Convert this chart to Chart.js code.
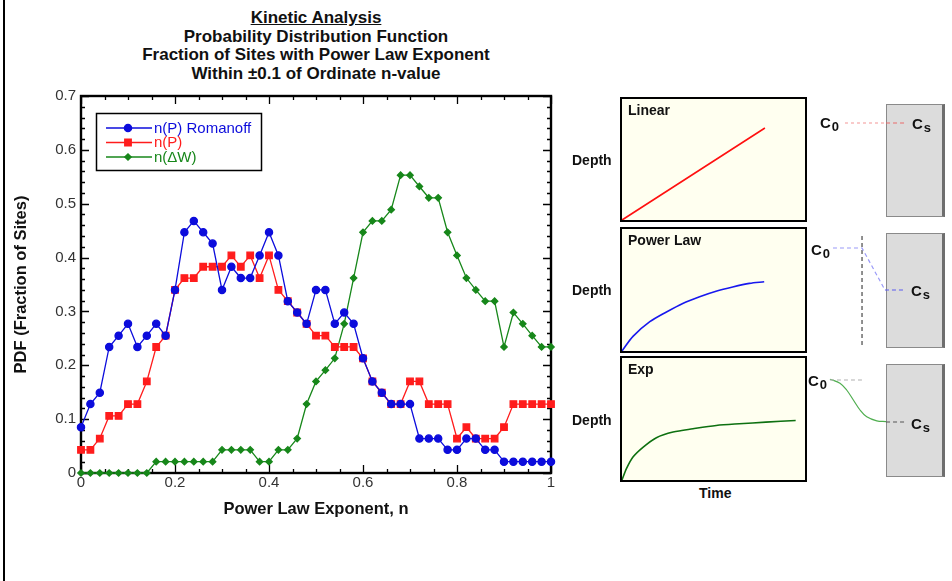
<!DOCTYPE html>
<html><head><meta charset="utf-8">
<script src="https://cdn.jsdelivr.net/npm/chart.js@4"></script>
<style>
body{margin:0;width:952px;height:581px;background:#fff;position:relative;overflow:hidden;font-family:"Liberation Sans",Arial,Helvetica,sans-serif;color:#111;}
.a{position:absolute;}
.title{left:116px;top:9px;width:400px;text-align:center;font-weight:bold;font-size:17px;line-height:18.5px;}
.depth{font-weight:bold;font-size:14px;left:572px;line-height:16px;}
.box{background:#dcdcdc;border:1px solid #8a8a8a;border-right:3px solid #6e6e6e;box-sizing:border-box;}
.c{font-weight:bold;font-size:15px;line-height:16px;}
.c sub{font-size:13px;vertical-align:-3px;line-height:0;margin-left:1px;}
</style></head><body>
<div class="a" style="left:3px;top:0;width:2px;height:581px;background:#000"></div>
<div class="a title"><u>Kinetic Analysis</u><br>Probability Distribution Function<br>Fraction of Sites with Power Law Exponent<br>Within ±0.1 of Ordinate n-value</div>
<canvas id="main" class="a" style="left:0;top:0" width="580" height="581"></canvas>

<div class="a depth" style="top:152px">Depth</div>
<div class="a depth" style="top:282px">Depth</div>
<div class="a depth" style="top:412px">Depth</div>
<div class="a" style="left:699px;top:485px;font-weight:bold;font-size:14px;">Time</div>
<canvas id="lin" class="a" style="left:620px;top:97px" width="187" height="125"></canvas>
<canvas id="pow" class="a" style="left:620px;top:227px" width="187" height="126"></canvas>
<canvas id="exp" class="a" style="left:620px;top:356px" width="187" height="126"></canvas>

<div class="a box" style="left:886px;top:104px;width:59px;height:113px"></div>
<div class="a box" style="left:886px;top:233px;width:59px;height:115px"></div>
<div class="a box" style="left:886px;top:364px;width:59px;height:113px"></div>
<canvas id="diag" class="a" style="left:800px;top:90px" width="152" height="400"></canvas>
<div class="a c" style="left:820px;top:115px">C<sub>0</sub></div>
<div class="a c" style="left:912px;top:116px">C<sub>s</sub></div>
<div class="a c" style="left:811px;top:242px">C<sub>0</sub></div>
<div class="a c" style="left:911px;top:283px">C<sub>s</sub></div>
<div class="a c" style="left:808px;top:373px">C<sub>0</sub></div>
<div class="a c" style="left:911px;top:416px">C<sub>s</sub></div>

<script>
// ---------- main chart data ----------
const nValues = [0,0.02,0.04,0.06,0.08,0.10,0.12,0.14,0.16,0.18,0.20,0.22,0.24,0.26,0.28,0.30,0.32,0.34,0.36,0.38,0.40,0.42,0.44,0.46,0.48,0.50,0.52,0.54,0.56,0.58,0.60,0.62,0.64,0.66,0.68,0.70,0.72,0.74,0.76,0.78,0.80,0.82,0.84,0.86,0.88,0.90,0.92,0.94,0.96,0.98,1.00];
const romanoff = [0.085,0.128,0.149,0.234,0.255,0.277,0.234,0.255,0.277,0.255,0.340,0.447,0.468,0.447,0.426,0.340,0.383,0.362,0.362,0.404,0.447,0.404,0.319,0.298,0.277,0.340,0.340,0.277,0.298,0.277,0.213,0.170,0.149,0.128,0.128,0.128,0.064,0.064,0.064,0.043,0.043,0.064,0.064,0.043,0.043,0.021,0.021,0.021,0.021,0.021,0.021];
const nP = [0.043,0.043,0.064,0.106,0.106,0.128,0.128,0.170,0.234,0.255,0.340,0.362,0.362,0.383,0.383,0.383,0.404,0.383,0.404,0.362,0.404,0.340,0.319,0.298,0.277,0.255,0.255,0.234,0.234,0.234,0.213,0.170,0.149,0.128,0.128,0.170,0.170,0.128,0.128,0.128,0.064,0.085,0.064,0.064,0.064,0.085,0.128,0.128,0.128,0.128,0.128];
const nDW = [0,0,0,0,0,0,0,0,0.021,0.021,0.021,0.021,0.021,0.021,0.021,0.043,0.043,0.043,0.043,0.021,0.021,0.043,0.043,0.064,0.128,0.170,0.191,0.213,0.277,0.362,0.447,0.468,0.468,0.489,0.553,0.553,0.532,0.511,0.511,0.447,0.404,0.362,0.340,0.319,0.319,0.234,0.298,0.277,0.255,0.234,0.234];
const seriesNames = ['n(P) Romanoff','n(P)','n(\u0394W)'];
const xTickLabels = ['0','0.2','0.4','0.6','0.8','1'];
const yTickLabels = ['0','0.1','0.2','0.3','0.4','0.5','0.6','0.7'];

// ---------- inset curves (normalised time / depth) ----------
const linT = [0,0.781], linD = [0,0.76];
const powT = [0,0.06,0.152,0.243,0.332,0.424,0.514,0.605,0.696,0.777];
const powD = [0,0.12,0.24,0.32,0.39,0.445,0.49,0.525,0.554,0.567];
const expT = [0,0.025,0.061,0.116,0.188,0.279,0.388,0.515,0.641,0.786,0.949];
const expD = [0,0.095,0.19,0.27,0.347,0.393,0.42,0.447,0.461,0.474,0.488];

// ---------- schematic concentration profiles ----------
const linProfOutX=[0.296,0.566], linProfOutY=[0.9175,0.9175];
const linProfInX=[0.566,0.697], linProfInY=[0.9175,0.9175];
const powProfOutX=[0.217,0.408,0.559], powProfOutY=[0.605,0.605,0.5];
const powProfInX=[0.559,0.691], powProfInY=[0.5,0.5];
const powSurfX=[0.408,0.408], powSurfY=[0.635,0.3625];
const expInitX=[0.197,0.428], expInitY=[0.275,0.275];
const expCurveX=[0.197,0.263,0.307,0.351,0.395,0.439,0.505,0.566];
const expCurveY=[0.277,0.267,0.25,0.225,0.2,0.183,0.173,0.171];
const expSurfX=[0.566,0.691], expSurfY=[0.17,0.17];

const BLUE='#0c0cdc', RED='#ff1c1c', GREEN='#17871a';
Chart.defaults.font.family='"Liberation Sans", Arial, Helvetica, sans-serif';
Chart.defaults.animation=false;

const zip=(xs,ys)=>xs.map((x,i)=>({x,y:ys[i]}));

const frameTicks={id:'frameTicks',
  beforeDatasetsDraw(chart){
    const {ctx,chartArea:a,scales:{x,y}}=chart;
    ctx.save();
    ctx.strokeStyle='#000';
    ctx.lineWidth=1.3;
    ctx.beginPath();
    for(let i=0;i<=35;i++){
      const py=Math.round(y.getPixelForValue(i*0.02))+0.5;
      const len=(i%5===0)?8:4;
      ctx.moveTo(a.left,py);ctx.lineTo(a.left+len,py);
      ctx.moveTo(a.right,py);ctx.lineTo(a.right-len,py);
    }
    for(let i=0;i<=20;i++){
      const px=Math.round(x.getPixelForValue(i*0.05))+0.5;
      const len=(i%4===0)?8:4;
      ctx.moveTo(px,a.bottom);ctx.lineTo(px,a.bottom-len);
      ctx.moveTo(px,a.top);ctx.lineTo(px,a.top+len);
    }
    ctx.stroke();
    ctx.lineWidth=2.4;
    ctx.strokeRect(a.left,a.top,a.width,a.height);
    ctx.restore();
  }};

const legendBox={id:'legendBox',
  afterDraw(chart){
    const ctx=chart.ctx;
    const ds=chart.data.datasets;
    ctx.save();
    ctx.fillStyle='#fff';
    ctx.fillRect(96,113,166,58);
    ctx.strokeStyle='#000';ctx.lineWidth=1.5;
    ctx.strokeRect(96.5,113.5,165,57);
    const rows=[128,142.5,157];
    ds.forEach((d,i)=>{
      const yy=rows[i];
      ctx.strokeStyle=d.borderColor;ctx.lineWidth=1.3;
      ctx.beginPath();ctx.moveTo(106,yy);ctx.lineTo(152,yy);ctx.stroke();
      ctx.fillStyle=d.pointBackgroundColor;ctx.strokeStyle=d.borderColor;
      Chart.helpers.drawPoint(ctx,{pointStyle:d.pointStyle,radius:d.pointRadius,rotation:0,borderWidth:1},128,yy);
      ctx.fillStyle=d.borderColor;
      ctx.font='15px "Liberation Sans", Arial, sans-serif';
      ctx.textBaseline='middle';
      ctx.fillText(d.label,154,yy+0.5);
    });
    ctx.restore();
  }};

new Chart(document.getElementById('main'),{
  type:'line',
  data:{datasets:[
    {label:seriesNames[0],data:zip(nValues,romanoff),borderColor:BLUE,pointBackgroundColor:BLUE,pointBorderColor:BLUE,pointStyle:'circle',pointRadius:3.6,borderWidth:1.3,clip:false},
    {label:seriesNames[1],data:zip(nValues,nP),borderColor:RED,pointBackgroundColor:RED,pointBorderColor:RED,pointStyle:'rect',pointRadius:4.6,borderWidth:1.3,clip:false},
    {label:seriesNames[2],data:zip(nValues,nDW),borderColor:GREEN,pointBackgroundColor:GREEN,pointBorderColor:GREEN,pointStyle:'rectRot',pointRadius:3.2,borderWidth:1.3,clip:false}
  ]},
  options:{responsive:false,events:[],
    layout:{padding:{left:8,top:96,right:29,bottom:58}},
    plugins:{legend:{display:false},tooltip:{enabled:false}},
    scales:{
      x:{type:'linear',min:0,max:1,
        ticks:{stepSize:0.2,color:'#333',font:{size:15},padding:1,maxRotation:0,callback:(v,i)=>xTickLabels[i]},
        grid:{display:false,drawTicks:false},border:{display:false},
        title:{display:true,text:'Power Law Exponent, n',color:'#111',font:{size:16.5,weight:'bold'},padding:{top:4,bottom:4}},
        afterFit:s=>{s.height=50;}},
      y:{type:'linear',min:0,max:0.7,
        ticks:{stepSize:0.1,color:'#333',font:{size:15},padding:5,callback:(v,i)=>yTickLabels[i]},
        grid:{display:false,drawTicks:false},border:{display:false},
        title:{display:true,text:'PDF (Fraction of Sites)',color:'#111',font:{size:16.5,weight:'bold'},padding:{top:4,bottom:4}},
        afterFit:s=>{s.width=73;}}
    }},
  plugins:[frameTicks,legendBox]
});

// ---------- insets ----------
function inset(id,label,xs,ys,color){
  const deco={id:'deco'+id,
    beforeDraw(c){const ctx=c.ctx;ctx.save();ctx.fillStyle='#fffff0';ctx.fillRect(0,0,c.width,c.height);ctx.restore();},
    afterDraw(c){const ctx=c.ctx;ctx.save();ctx.strokeStyle='#000';ctx.lineWidth=2;ctx.strokeRect(1,1,c.width-2,c.height-2);
      ctx.fillStyle='#111';ctx.font='bold 14px "Liberation Sans", Arial, sans-serif';ctx.textBaseline='middle';ctx.fillText(label,8,14);ctx.restore();}};
  new Chart(document.getElementById(id),{type:'scatter',
    data:{datasets:[{data:zip(xs,ys),showLine:true,borderColor:color,borderWidth:1.6,pointRadius:0,tension:0.3,clip:false}]},
    options:{responsive:false,events:[],layout:{padding:2},
      plugins:{legend:{display:false},tooltip:{enabled:false}},
      scales:{x:{display:false,min:0,max:1},y:{display:false,min:0,max:1}}},
    plugins:[deco]});
}
inset('lin','Linear',linT,linD,'#ff1010');
inset('pow','Power Law',powT,powD,'#1818ee');
inset('exp','Exp',expT,expD,'#0d7010');

// ---------- schematic ----------
const seg=(xs,ys,color,dash,w)=>({data:zip(xs,ys),showLine:true,borderColor:color,borderDash:dash,borderWidth:w||1.2,pointRadius:0,clip:false});
new Chart(document.getElementById('diag'),{type:'scatter',
  data:{datasets:[
    seg(linProfOutX,linProfOutY,'#f5a8a8',[3,3]),
    seg(linProfInX,linProfInY,'#ea6a6a',[4,3]),
    seg(powProfOutX,powProfOutY,'#9a9af8',[4,3]),
    seg(powProfInX,powProfInY,'#5a5af0',[4,3]),
    seg(powSurfX,powSurfY,'#222',[4,3],1),
    seg(expInitX,expInitY,'#b0b0b0',[4,3]),
    Object.assign(seg(expCurveX,expCurveY,'#4fae4f',[]),{tension:0.35}),
    seg(expSurfX,expSurfY,'#555',[4,3])
  ]},
  options:{responsive:false,events:[],layout:{padding:0},
    plugins:{legend:{display:false},tooltip:{enabled:false}},
    scales:{x:{display:false,min:0,max:1},y:{display:false,min:0,max:1}}}});
</script>
</body></html>
